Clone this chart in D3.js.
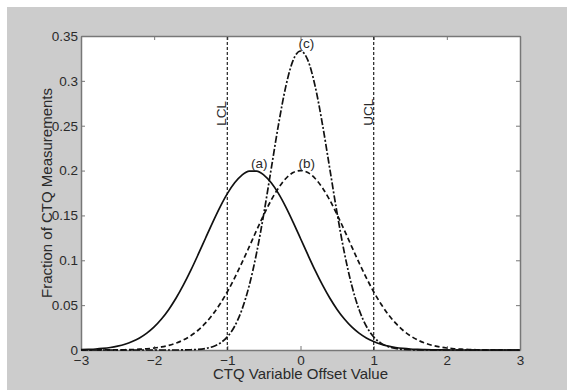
<!DOCTYPE html>
<html>
<head>
<meta charset="utf-8">
<script src="https://cdn.jsdelivr.net/npm/d3@7"></script>
<style>
  body { margin: 0; background: #fff; }
  svg { display: block; font-family: Arial, "Liberation Sans", sans-serif; }
</style>
</head>
<body>
<svg id="chart" width="567" height="390"></svg>
<script>
// x grid used by all three curves, -3 .. 3 step 0.1
const xs = d3.range(61).map(i => +(-3 + i * 0.1).toFixed(1));

// (a) solid, shifted left
const curveA = [0.0004, 0.0007, 0.0011, 0.0018, 0.0028, 0.0043, 0.0064, 0.0094, 0.0134, 0.0188,
  0.0257, 0.0345, 0.0452, 0.0579, 0.0725, 0.0887, 0.1062, 0.1243, 0.1423, 0.1593,
  0.1743, 0.1864, 0.1950, 0.1994, 0.1994, 0.1950, 0.1864, 0.1743, 0.1593, 0.1423,
  0.1243, 0.1062, 0.0887, 0.0725, 0.0579, 0.0452, 0.0345, 0.0257, 0.0188, 0.0134,
  0.0094, 0.0064, 0.0043, 0.0028, 0.0018, 0.0011, 0.0007, 0.0004, 0.0002, 0.0001,
  0, 0, 0, 0, 0, 0, 0, 0, 0, 0, 0];

// (b) dashed, centred
const curveB = [0, 0, 0, 0.0001, 0.0001, 0.0002, 0.0003, 0.0005, 0.0009, 0.0014,
  0.0022, 0.0034, 0.0052, 0.0077, 0.0112, 0.0159, 0.0220, 0.0299, 0.0396, 0.0513,
  0.0649, 0.0804, 0.0973, 0.1152, 0.1334, 0.1510, 0.1671, 0.1807, 0.1912, 0.1978,
  0.2000, 0.1978, 0.1912, 0.1807, 0.1671, 0.1510, 0.1334, 0.1152, 0.0973, 0.0804,
  0.0649, 0.0513, 0.0396, 0.0299, 0.0220, 0.0159, 0.0112, 0.0077, 0.0052, 0.0034,
  0.0022, 0.0014, 0.0009, 0.0005, 0.0003, 0.0002, 0.0001, 0.0001, 0, 0, 0];

// (c) dash-dot, narrow
const curveC = [0, 0, 0, 0, 0, 0, 0, 0, 0, 0,
  0, 0, 0, 0, 0.0001, 0.0003, 0.0007, 0.0017, 0.0037, 0.0076,
  0.0146, 0.0265, 0.0451, 0.0721, 0.1082, 0.1526, 0.2022, 0.2516, 0.2941, 0.3231,
  0.3333, 0.3231, 0.2941, 0.2516, 0.2022, 0.1526, 0.1082, 0.0721, 0.0451, 0.0265,
  0.0146, 0.0076, 0.0037, 0.0017, 0.0007, 0.0003, 0.0001, 0, 0, 0,
  0, 0, 0, 0, 0, 0, 0, 0, 0, 0, 0];

const xTicks = [-3, -2, -1, 0, 1, 2, 3];
const yTicks = [0, 0.05, 0.1, 0.15, 0.2, 0.25, 0.3, 0.35];
const yTickLabels = ['0', '0.05', '0.1', '0.15', '0.2', '0.25', '0.3', '0.35'];

const limitX = [-1, 1];
const limitNames = ['LCL', 'UCL'];
const limitLabelY = 0.25;

const curveNames = ['(a)', '(b)', '(c)'];
const peakX = [-0.65, 0, 0];
const peakY = [0.2, 0.2, 0.3333];

const svg = d3.select('#chart');
const margin = { left: 81, top: 36, right: 47, bottom: 40 };
const W = 567, H = 390;

svg.append('rect').attr('x', 7).attr('y', 7).attr('width', W - 7).attr('height', H - 7).attr('fill', '#cccccc');

const x = d3.scaleLinear().domain([-3, 3]).range([margin.left, W - margin.right]);
const y = d3.scaleLinear().domain([0, 0.35]).range([H - margin.bottom, margin.top]);

svg.append('rect')
  .attr('x', x(-3)).attr('y', y(0.35))
  .attr('width', x(3) - x(-3)).attr('height', y(0) - y(0.35))
  .attr('fill', '#fff');

const axisCol = '#777';
const textCol = '#2a2a2a';

// axes with inward ticks, all four sides
const axBottom = svg.append('g').attr('transform', `translate(0,${y(0)})`)
  .call(d3.axisBottom(x).tickValues(xTicks).tickSizeInner(-4).tickSizeOuter(0).tickPadding(5).tickFormat(d3.format('d')));
const axTop = svg.append('g').attr('transform', `translate(0,${y(0.35)})`)
  .call(d3.axisTop(x).tickValues(xTicks).tickSizeInner(-4).tickSizeOuter(0).tickFormat(''));
const axLeft = svg.append('g').attr('transform', `translate(${x(-3)},0)`)
  .call(d3.axisLeft(y).tickValues(yTicks).tickSizeInner(-4).tickSizeOuter(0).tickPadding(3)
    .tickFormat((d, i) => yTickLabels[i]));
const axRight = svg.append('g').attr('transform', `translate(${x(3)},0)`)
  .call(d3.axisRight(y).tickValues(yTicks).tickSizeInner(-4).tickSizeOuter(0).tickFormat(''));

[axBottom, axTop, axLeft, axRight].forEach(g => {
  g.select('.domain').attr('stroke', axisCol).attr('stroke-width', 1.5);
  g.selectAll('.tick line').attr('stroke', axisCol);
  g.selectAll('.tick text').attr('fill', textCol).style('font-size', '13.5px').style('font-family', 'Arial, "Liberation Sans", sans-serif');
});

// limit lines
svg.selectAll('.limit')
  .data(limitX)
  .join('line')
  .attr('class', 'limit')
  .attr('x1', d => x(d)).attr('x2', d => x(d))
  .attr('y1', y(0)).attr('y2', y(0.35))
  .attr('stroke', '#333').attr('stroke-width', 1.3)
  .attr('stroke-dasharray', '3,2');

svg.selectAll('.limit-label')
  .data(limitX)
  .join('text')
  .attr('class', 'limit-label')
  .attr('transform', d => `translate(${x(d) - 1},${y(limitLabelY)}) rotate(-90)`)
  .attr('fill', textCol)
  .style('font-size', '13.5px')
  .text((d, i) => limitNames[i]);

// curves
const line = d3.line()
  .x((d, i) => x(xs[i]))
  .y(d => y(d))
  .curve(d3.curveMonotoneX);

const curves = [curveA, curveB, curveC];
const dashes = [null, '5,3', '7,2,2,2'];

svg.selectAll('.curve')
  .data(curves)
  .join('path')
  .attr('class', 'curve')
  .attr('d', d => line(d))
  .attr('fill', 'none')
  .attr('stroke', '#111')
  .attr('stroke-width', 1.7)
  .attr('stroke-dasharray', (d, i) => dashes[i]);

svg.selectAll('.curve-label')
  .data(curveNames)
  .join('text')
  .attr('class', 'curve-label')
  .attr('x', (d, i) => x(peakX[i]) - 2)
  .attr('y', (d, i) => y(peakY[i]) - 3)
  .attr('fill', textCol)
  .style('font-size', '13.5px')
  .text(d => d);

// axis titles
svg.append('text')
  .attr('x', (x(-3) + x(3)) / 2)
  .attr('y', 379)
  .attr('text-anchor', 'middle')
  .attr('fill', textCol)
  .style('font-size', '15px')
  .text('CTQ Variable Offset Value');

svg.append('text')
  .attr('transform', `translate(52,${(y(0) + y(0.35)) / 2}) rotate(-90)`)
  .attr('text-anchor', 'middle')
  .attr('fill', textCol)
  .style('font-size', '15px')
  .text('Fraction of CTQ Measurements');
</script>
</body>
</html>
